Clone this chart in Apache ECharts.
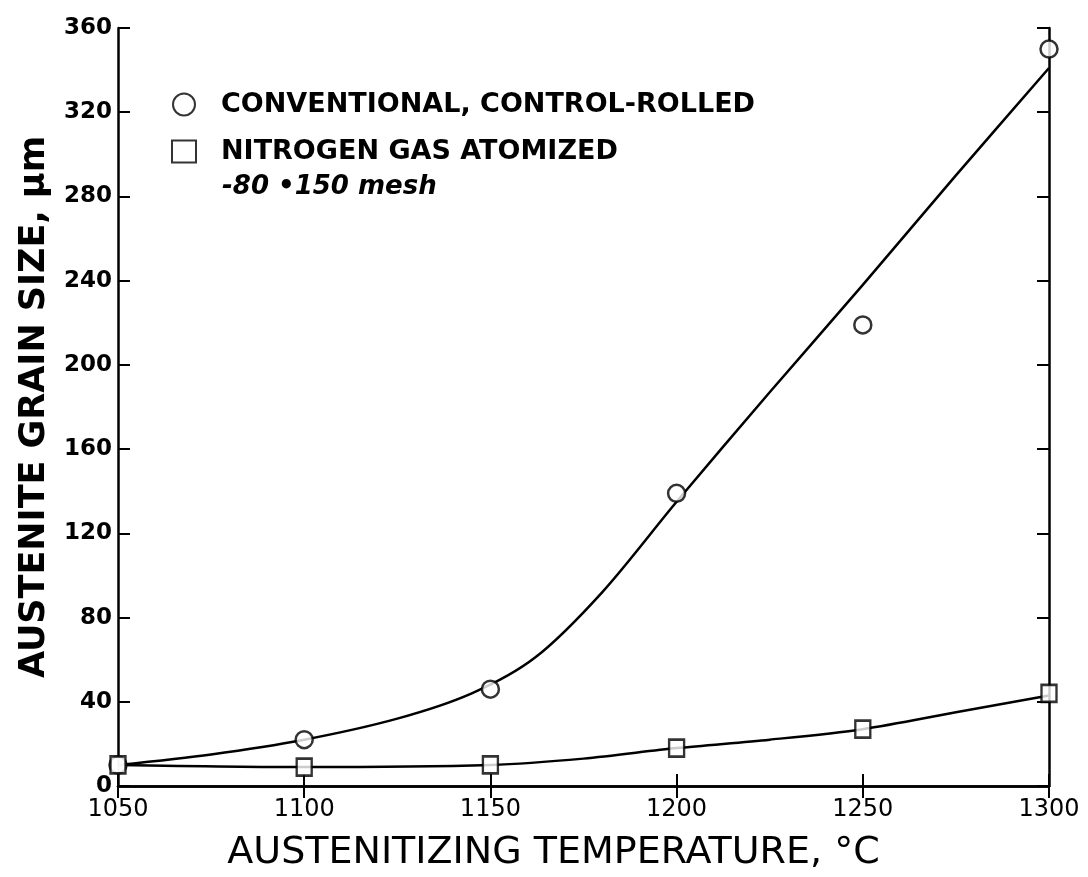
<!DOCTYPE html>
<html>
<head>
<meta charset="utf-8">
<script src="https://cdn.jsdelivr.net/npm/echarts@6/dist/echarts.min.js"></script>
<style>
  html, body { margin: 0; padding: 0; background: #fff; }
  #chart { width: 1088px; height: 877px; }
</style>
</head>
<body>
<div id="chart"></div>
<script>
// ======================
// DATA
// ======================

const temps = [1050, 1100, 1150, 1200, 1250, 1300];
const conventional = [10, 22, 46, 139, 219, 350];
const nitrogen = [10, 9, 10, 18, 27, 44];

// fitted curves
const curveTemps = [1050, 1075, 1100, 1125, 1145, 1162, 1180, 1200, 1225, 1250, 1275, 1300];
const conventionalCurve = [10, 15, 22, 32, 44, 61, 92, 135, 187, 238, 290, 341];
const nitrogenCurveTemps = [1050, 1100, 1150, 1175, 1200, 1225, 1250, 1275, 1300];
const nitrogenCurve = [10, 9, 10, 13, 18, 22, 27, 35, 43];

const xTicks = [1050, 1100, 1150, 1200, 1250, 1300];
const yTicks = [0, 40, 80, 120, 160, 200, 240, 280, 320, 360];

const legendNames = ['CONVENTIONAL, CONTROL-ROLLED', 'NITROGEN GAS ATOMIZED'];
const meshNote = '-80 \u2022150 mesh';

// ======================
// CHART
// ======================

const zip = (xs, ys) => xs.map((x, i) => [x, ys[i]]);
const font = '"DejaVu Sans", sans-serif';

const chart = echarts.init(document.getElementById('chart'));

const axisCommon = {
    type: 'value',
    axisLine: { show: true, lineStyle: { color: '#000', width: 2.5 } },
    axisTick: { show: true, inside: true, length: 12, lineStyle: { color: '#000', width: 2 } },
    splitLine: { show: false }
};

chart.setOption({
    backgroundColor: '#fff',
    animation: false,
    grid: { left: 118, right: 39, top: 28, bottom: 91 },
    legend: {
        orient: 'vertical',
        left: 166,
        top: 86,
        itemGap: 20,
        itemWidth: 24,
        itemHeight: 22,
        data: legendNames,
        textStyle: { fontFamily: font, fontWeight: 'bold', fontSize: 27, color: '#000', padding: [0, 0, 0, 20] }
    },
    xAxis: [
        Object.assign({}, axisCommon, {
            min: 1050, max: 1300, interval: 50,
            name: 'AUSTENITIZING TEMPERATURE, \u00b0C',
            nameLocation: 'middle',
            nameGap: 48,
            nameTextStyle: { fontFamily: font, fontSize: 38, color: '#000', padding: [0, 60, 0, 0] },
            axisLabel: {
                margin: 12, fontFamily: font, fontSize: 24, color: '#000',
                formatter: v => xTicks.includes(v) ? String(v) : ''
            }
        }),
        Object.assign({}, axisCommon, {
            position: 'top', min: 1050, max: 1300, interval: 50,
            axisLabel: { show: false }
        })
    ],
    yAxis: [
        Object.assign({}, axisCommon, {
            min: 0, max: 360, interval: 40,
            name: 'AUSTENITE GRAIN SIZE, \u03bcm',
            nameLocation: 'middle',
            nameGap: 66,
            nameTextStyle: { fontFamily: font, fontWeight: 'bold', fontSize: 35, color: '#000' },
            axisLabel: {
                margin: 6, fontFamily: font, fontWeight: 'bold', fontSize: 23, color: '#000',
                formatter: v => yTicks.includes(v) ? String(v) : ''
            }
        }),
        Object.assign({}, axisCommon, {
            position: 'right', min: 0, max: 360, interval: 40,
            axisLabel: { show: false }
        })
    ],
    graphic: [
        {
            type: 'text',
            left: 222,
            top: 174,
            style: {
                text: meshNote,
                fontFamily: font,
                fontWeight: 'bold',
                fontStyle: 'italic',
                fontSize: 26,
                fill: '#000'
            }
        }
    ],
    series: [
        {
            name: 'conventional curve',
            type: 'line',
            data: zip(curveTemps, conventionalCurve),
            smooth: 0.3,
            showSymbol: false,
            lineStyle: { color: '#000', width: 2.5 },
            z: 2
        },
        {
            name: 'nitrogen curve',
            type: 'line',
            data: zip(nitrogenCurveTemps, nitrogenCurve),
            smooth: 0.3,
            showSymbol: false,
            lineStyle: { color: '#000', width: 2.5 },
            z: 2
        },
        {
            name: legendNames[0],
            type: 'scatter',
            data: zip(temps, conventional),
            symbol: 'circle',
            symbolSize: 17,
            itemStyle: { color: '#fff', borderColor: '#000', borderWidth: 2.5 },
            z: 3
        },
        {
            name: legendNames[1],
            type: 'scatter',
            data: zip(temps, nitrogen),
            symbol: 'rect',
            symbolSize: [15, 17],
            itemStyle: { color: '#fff', borderColor: '#000', borderWidth: 2.5 },
            z: 3
        }
    ]
});
</script>
</body>
</html>
